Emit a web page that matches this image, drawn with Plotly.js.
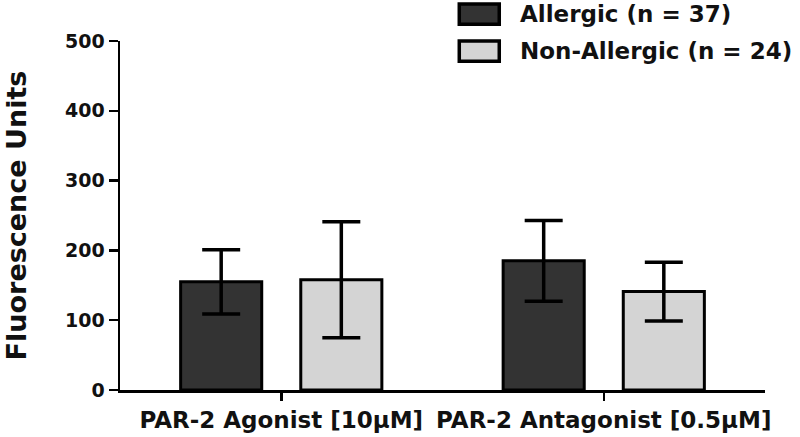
<!DOCTYPE html>
<html><head><meta charset="utf-8">
<script src="https://cdn.plot.ly/plotly-3.0.1.min.js"></script>
<style>html,body{margin:0;padding:0;background:#fff}#chart{width:800px;height:437px}</style>
</head><body><div id="chart"></div>
<script>
const categories = ["PAR-2 Agonist [10μM]", "PAR-2 Antagonist [0.5μM]"];
const seriesNames = ["Allergic (n = 37)", "Non-Allergic (n = 24)"];
const seriesColors = ["#333333", "#d4d4d4"];
const allergicMean = [155, 185];
const allergicErr = [46, 58];
const nonAllergicMean = [158, 141];
const nonAllergicErr = [83, 42];
const yTicks = [0, 100, 200, 300, 400, 500];

const fam = "DejaVu Sans, Liberation Sans, Arial, sans-serif";
function f(size) { return {family: fam, size: size, color: "#111", weight: "bold"}; }
function bar(name, y, err, color) {
  return {
    type: "bar", name: name, x: categories, y: y, showlegend: false,
    marker: {color: color, line: {color: "#000", width: 3}},
    error_y: {type: "data", array: err, visible: true, color: "#000", thickness: 3.5, width: 19}
  };
}
const data = [
  bar(seriesNames[0], allergicMean, allergicErr, seriesColors[0]),
  bar(seriesNames[1], nonAllergicMean, nonAllergicErr, seriesColors[1])
];

// manual legend (paper coordinates)
const legRowsTop = [1.106, 1.0];
const swH = 0.058, swX0 = 0.526, swX1 = 0.588, txtX = 0.617;
const shapes = [], annotations = [];
seriesNames.forEach((n, i) => {
  const top = legRowsTop[i];
  shapes.push({type: "rect", xref: "paper", yref: "paper", x0: swX0, x1: swX1, y0: top - swH, y1: top,
    fillcolor: seriesColors[i], line: {color: "#000", width: 3.5}});
  annotations.push({xref: "paper", yref: "paper", x: txtX, y: top - swH / 2, xanchor: "left", yanchor: "middle",
    text: n, showarrow: false, font: f(23)});
});

const layout = {
  width: 800, height: 437,
  margin: {l: 120, r: 35, t: 41, b: 47},
  paper_bgcolor: "#fff", plot_bgcolor: "#fff",
  barmode: "group", bargap: 0.255, bargroupgap: 0.325,
  showlegend: false,
  shapes: shapes, annotations: annotations,
  font: f(19),
  xaxis: {
    type: "category", range: [-0.5, 1.5], showline: true, linecolor: "#000", linewidth: 2.5,
    ticks: "outside", ticklen: 8, tickwidth: 2.5, tickcolor: "#000",
    tickfont: f(23), showgrid: false, zeroline: false
  },
  yaxis: {
    range: [0, 500], tickvals: yTicks, ticktext: yTicks.map(String),
    showline: true, linecolor: "#000", linewidth: 2.5,
    ticks: "outside", ticklen: 9, tickwidth: 2.5, tickcolor: "#000",
    tickfont: f(19), showgrid: false, zeroline: false,
    title: {text: "Fluorescence Units", font: f(27), standoff: 31}
  }
};
Plotly.newPlot("chart", data, layout, {displayModeBar: false, staticPlot: true});
</script></body></html>
